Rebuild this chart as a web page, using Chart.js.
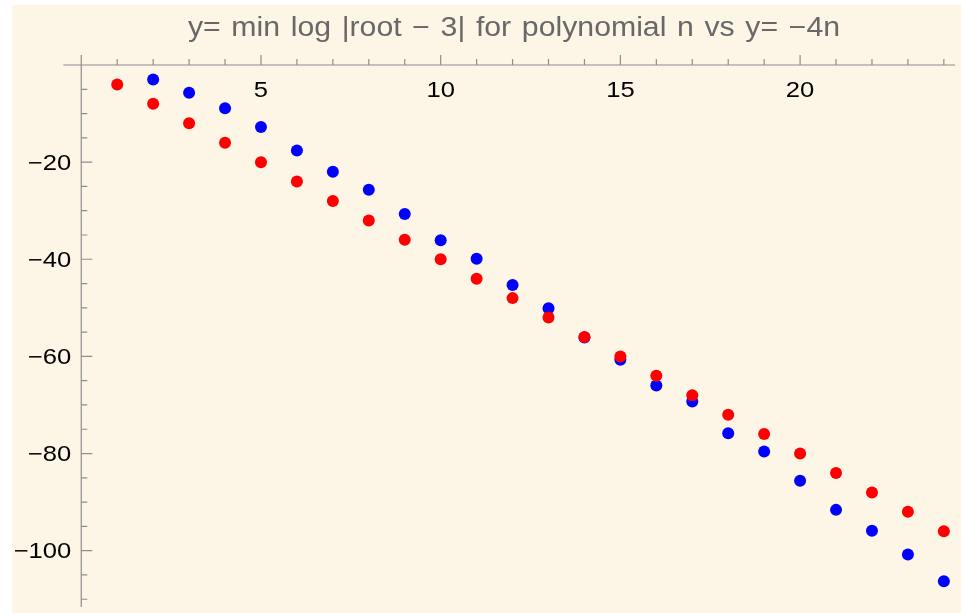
<!DOCTYPE html>
<html>
<head>
<meta charset="utf-8">
<script src="https://cdn.jsdelivr.net/npm/chart.js@4/dist/chart.umd.min.js"></script>
<style>
  html, body { margin: 0; padding: 0; background: #ffffff; overflow: hidden; }
  #wrap { position: relative; width: 961px; height: 613px; }
  #title {
    position: absolute; top: 10.6px; left: 514px; transform: translateX(-50%) scaleX(1.12);
    white-space: nowrap; font-family: "Liberation Sans", Arial, sans-serif;
    font-size: 27px; line-height: 32px; color: #686868; word-spacing: 2px;
  }
  canvas { position: absolute; left: 0; top: 0; }
</style>
</head>
<body>
<div id="wrap">
  <canvas id="c" width="961" height="613"></canvas>
  <div id="title">y= min log |root − 3| for polynomial n vs y= −4n</div>
</div>
<script>
// ---- data ----
const redN = [1,2,3,4,5,6,7,8,9,10,11,12,13,14,15,16,17,18,19,20,21,22,23,24];
const redY = [-4,-8,-12,-16,-20,-24,-28,-32,-36,-40,-44,-48,-52,-56,-60,-64,-68,-72,-76,-80,-84,-88,-92,-96];
const blueN = [2,3,4,5,6,7,8,9,10,11,12,13,14,15,16,17,18,19,20,21,22,23,24];
const blueY = [-3.0,-5.7,-8.9,-12.75,-17.6,-22.0,-25.7,-30.7,-36.1,-39.9,-45.3,-50.1,-56.1,-60.7,-66.0,-69.3,-75.8,-79.6,-85.6,-91.6,-95.9,-100.8,-106.3];

// ---- ticks ----
const xMajorTicks = [5,10,15,20];
const xTickLabels = ["5","10","15","20"];
const xMinorTicks = [1,2,3,4,6,7,8,9,11,12,13,14,16,17,18,19,21,22,23,24];
const yMajorTicks = [-20,-40,-60,-80,-100];
const yTickLabels = ["−20","−40","−60","−80","−100"];
const yMinorTicks = [-5,-10,-15,-25,-30,-35,-45,-50,-55,-65,-70,-75,-85,-90,-95,-105,-110];

function toPoints(xs, ys) { return xs.map((x, i) => ({x: x, y: ys[i]})); }

const bgPlugin = {
  id: 'bg',
  beforeDraw(chart) {
    const ctx = chart.ctx;
    ctx.save();
    ctx.fillStyle = '#fdf5e6';
    ctx.fillRect(12, 5, chart.width - 12, chart.height - 5);
    ctx.restore();
  }
};

const axesPlugin = {
  id: 'mAxes',
  beforeDatasetsDraw(chart) {
    const ctx = chart.ctx, ca = chart.chartArea;
    const xs = chart.scales.x, ys = chart.scales.y;
    const x0 = xs.getPixelForValue(0), y0 = ys.getPixelForValue(0);
    ctx.save();
    ctx.strokeStyle = '#8e8e8e';
    ctx.lineWidth = 1.2;
    ctx.beginPath();
    ctx.moveTo(ca.left, y0); ctx.lineTo(ca.right, y0);
    ctx.moveTo(x0, ca.top); ctx.lineTo(x0, ca.bottom);
    xMinorTicks.forEach(v => { const p = xs.getPixelForValue(v); ctx.moveTo(p, y0); ctx.lineTo(p, y0 - 6); });
    xMajorTicks.forEach(v => { const p = xs.getPixelForValue(v); ctx.moveTo(p, y0); ctx.lineTo(p, y0 - 10); });
    yMinorTicks.forEach(v => { const p = ys.getPixelForValue(v); ctx.moveTo(x0, p); ctx.lineTo(x0 + 6, p); });
    yMajorTicks.forEach(v => { const p = ys.getPixelForValue(v); ctx.moveTo(x0, p); ctx.lineTo(x0 + 11, p); });
    ctx.stroke();

    ctx.fillStyle = '#000000';
    ctx.font = '21.5px "Liberation Sans", Arial, sans-serif';
    ctx.textBaseline = 'alphabetic';
    ctx.textAlign = 'center';
    xMajorTicks.forEach((v, i) => {
      const p = xs.getPixelForValue(v);
      ctx.save(); ctx.translate(p, y0 + 32); ctx.scale(1.19, 1);
      ctx.fillText(xTickLabels[i], 0, 0); ctx.restore();
    });
    ctx.textAlign = 'right';
    yMajorTicks.forEach((v, i) => {
      const p = ys.getPixelForValue(v);
      ctx.save(); ctx.translate(x0 - 10, p + 7.8); ctx.scale(1.19, 1);
      ctx.fillText(yTickLabels[i], 0, 0); ctx.restore();
    });
    ctx.restore();
  }
};

new Chart(document.getElementById('c'), {
  type: 'scatter',
  data: {
    datasets: [
      { label: 'y = -4n', data: toPoints(redN, redY), backgroundColor: '#ff0000', borderWidth: 0, pointRadius: 6, pointHoverRadius: 6 },
      { label: 'min log |root - 3|', data: toPoints(blueN, blueY), backgroundColor: '#0000ff', borderWidth: 0, pointRadius: 6, pointHoverRadius: 6 }
    ]
  },
  options: {
    responsive: false,
    animation: false,
    events: [],
    clip: false,
    layout: { padding: { left: 63.3, top: 55, right: 0, bottom: 0 } },
    plugins: { legend: { display: false }, tooltip: { enabled: false }, title: { display: false } },
    scales: {
      x: { type: 'linear', min: -0.5, max: 24.31, display: false },
      y: { type: 'linear', min: -111.6, max: 2.06, display: false }
    }
  },
  plugins: [bgPlugin, axesPlugin]
});
</script>
</body>
</html>
